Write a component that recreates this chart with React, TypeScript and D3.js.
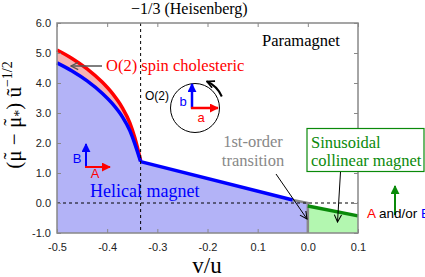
import React, { useEffect, useRef } from 'react';
import * as d3 from 'd3';

// curved part of the phase boundaries (x = v/u)
const curveX = [-0.5, -0.47, -0.44, -0.41, -0.39, -0.37, -0.355, -0.345, -1 / 3];
const cholestericY = [5.1, 4.82, 4.47, 4.03, 3.66, 3.18, 2.68, 2.18, 1.42];
const helicalY = [4.67, 4.4, 4.07, 3.66, 3.32, 2.88, 2.42, 1.98, 1.38];
// straight part of the helical boundary
const helicalLineX = [-1 / 3, -0.03];
const helicalLineY = [1.38, 0.1];
// 1st-order transition (gray)
const firstOrderX = [-0.03, 0, 0];
const firstOrderY = [0.1, 0.0, -1];
// sinusoidal collinear boundary
const sinusoidalX = [0, 0.1];
const sinusoidalY = [-0.1, -0.43];

const xTicks = [-0.5, -0.4, -0.3, -0.2, -0.1, 0, 0.1];
const xTickLabels = ['-0.5', '-0.4', '-0.3', '-0.2', '0.1', '0.0', '0.1'];
const yTicks = [-1, 0, 1, 2, 3, 4, 5, 6];
const yTickLabels = ['-1.0', '0.0', '1.0', '2.0', '3.0', '4.0', '5.0', '6.0'];

const SERIF = '"Liberation Serif", "Times New Roman", serif';
const SANS = '"Liberation Sans", Arial, sans-serif';

const App = () => {
  const ref = useRef<SVGSVGElement | null>(null);

  useEffect(() => {
    if (!ref.current) return;
    const svg = d3.select(ref.current);
    svg.selectAll('*').remove();

    const left = 57, right = 358, top = 23, bottom = 233;
    const x = d3.scaleLinear().domain([-0.5, 0.1]).range([left, right]);
    const y = d3.scaleLinear().domain([-1, 6]).range([bottom, top]);

    const defs = svg.append('defs');
    const openHead = (id: string, color: string, w: number) => {
      defs.append('marker')
        .attr('id', id)
        .attr('viewBox', '0 0 10 10')
        .attr('refX', 9).attr('refY', 5)
        .attr('markerWidth', 9).attr('markerHeight', 9)
        .attr('markerUnits', 'userSpaceOnUse')
        .attr('orient', 'auto')
        .append('path')
        .attr('d', 'M1,1 L9,5 L1,9')
        .attr('fill', 'none')
        .attr('stroke', color)
        .attr('stroke-width', w);
    };
    const solidHead = (id: string, color: string) => {
      defs.append('marker')
        .attr('id', id)
        .attr('viewBox', '0 0 10 10')
        .attr('refX', 9).attr('refY', 5)
        .attr('markerWidth', 9).attr('markerHeight', 9)
        .attr('markerUnits', 'userSpaceOnUse')
        .attr('orient', 'auto')
        .append('path')
        .attr('d', 'M0,0 L10,5 L0,10 Z')
        .attr('fill', color);
    };
    openHead('headGray', '#555', 1.4);
    openHead('headBlack', '#000', 1.2);
    openHead('headBlackBold', '#000', 1.8);
    solidHead('triBlue', '#0000ff');
    solidHead('triRed', '#ff0000');
    solidHead('triGreen', '#0a8a0a');

    const curveRed = curveX.map((v, i) => [v, cholestericY[i]] as [number, number]);
    const curveBlue = curveX.map((v, i) => [v, helicalY[i]] as [number, number]);
    const lineBlue = helicalLineX.map((v, i) => [v, helicalLineY[i]] as [number, number]);
    const gray = firstOrderX.map((v, i) => [v, firstOrderY[i]] as [number, number]);
    const green = sinusoidalX.map((v, i) => [v, sinusoidalY[i]] as [number, number]);

    const smooth = d3.line<[number, number]>()
      .x(d => x(d[0])).y(d => y(d[1]))
      .curve(d3.curveMonotoneX);
    const straight = d3.line<[number, number]>()
      .x(d => x(d[0])).y(d => y(d[1]));

    // helical magnet region
    const tail = [...lineBlue.slice(1), ...gray.slice(1)];
    const bluePath = smooth(curveBlue)
      + tail.map(d => `L${x(d[0])},${y(d[1])}`).join('')
      + `L${x(-0.5)},${y(-1)}Z`;
    svg.append('path').attr('d', bluePath).attr('fill', '#b3b3f7');

    // cholesteric sliver between red and blue
    const band = d3.area<number>()
      .x(i => x(curveX[i]))
      .y0(i => y(helicalY[i]))
      .y1(i => y(cholestericY[i]))
      .curve(d3.curveMonotoneX);
    svg.append('path').attr('d', band(d3.range(curveX.length)))
      .attr('fill', '#f5b3b3');

    // sinusoidal region
    const greenArea = d3.area<[number, number]>()
      .x(d => x(d[0])).y0(y(-1)).y1(d => y(d[1]));
    svg.append('path').attr('d', greenArea(green)).attr('fill', '#b3f7b0');

    svg.append('path').attr('d', smooth(curveRed))
      .attr('fill', 'none').attr('stroke', '#ff0000').attr('stroke-width', 3.5);
    svg.append('path').attr('d', smooth(curveBlue))
      .attr('fill', 'none').attr('stroke', '#0000ff').attr('stroke-width', 3.5);
    svg.append('path').attr('d', straight(lineBlue))
      .attr('fill', 'none').attr('stroke', '#0000ff').attr('stroke-width', 3.5);
    svg.append('path').attr('d', straight(gray))
      .attr('fill', 'none').attr('stroke', '#888').attr('stroke-width', 2.5);
    svg.append('path').attr('d', straight(green))
      .attr('fill', 'none').attr('stroke', '#0a8a0a').attr('stroke-width', 3.5);

    // dashed guides
    svg.append('line')
      .attr('x1', x(-1 / 3)).attr('x2', x(-1 / 3)).attr('y1', y(6)).attr('y2', y(-1))
      .attr('stroke', '#000').attr('stroke-width', 1).attr('stroke-dasharray', '3,3');
    svg.append('line')
      .attr('x1', x(-0.5)).attr('x2', x(0.1)).attr('y1', y(0)).attr('y2', y(0))
      .attr('stroke', '#000').attr('stroke-width', 1).attr('stroke-dasharray', '3,3');

    // axes with inward ticks
    const styleAxis = (g: d3.Selection<SVGGElement, unknown, null, undefined>) => {
      g.select('.domain').remove();
      g.selectAll('.tick line').attr('stroke', '#888');
      g.selectAll('.tick text')
        .attr('fill', '#222')
        .style('font-family', SANS)
        .style('font-size', '11px');
    };
    svg.append('g').attr('transform', `translate(0,${bottom})`)
      .call(d3.axisBottom(x).tickValues(xTicks).tickSizeInner(-4).tickSizeOuter(0)
        .tickPadding(10).tickFormat((_, i) => xTickLabels[i]))
      .call(styleAxis);
    svg.append('g').attr('transform', `translate(0,${top})`)
      .call(d3.axisTop(x).tickValues(xTicks).tickSizeInner(-4).tickSizeOuter(0)
        .tickFormat(() => ''))
      .call(styleAxis);
    svg.append('g').attr('transform', `translate(${left},0)`)
      .call(d3.axisLeft(y).tickValues(yTicks).tickSizeInner(-4).tickSizeOuter(0)
        .tickPadding(6).tickFormat((_, i) => yTickLabels[i]))
      .call(styleAxis);
    svg.append('g').attr('transform', `translate(${right},0)`)
      .call(d3.axisRight(y).tickValues(yTicks).tickSizeInner(-4).tickSizeOuter(0)
        .tickFormat(() => ''))
      .call(styleAxis);
    svg.append('rect')
      .attr('x', left).attr('y', top).attr('width', right - left).attr('height', bottom - top)
      .attr('fill', 'none').attr('stroke', '#888').attr('stroke-width', 1.5);

    // axis titles
    svg.append('text')
      .attr('x', 207).attr('y', 273).attr('text-anchor', 'middle')
      .style('font-family', SERIF).style('font-size', '23px')
      .text('v/u');

    // (mu~ - mu~*) u~^(-1/2), tilde drawn over each mu
    const yl = svg.append('text')
      .attr('transform', 'translate(21,115) rotate(-90)')
      .attr('text-anchor', 'middle')
      .style('font-family', SERIF).style('font-size', '21px');
    yl.append('tspan').text('(\u03BC');
    yl.append('tspan').attr('dx', -9).attr('dy', -3).text('\u02DC');
    yl.append('tspan').attr('dx', 2).attr('dy', 3).text(' \u2212 \u03BC');
    yl.append('tspan').attr('dx', -9).attr('dy', -3).text('\u02DC');
    yl.append('tspan').attr('dx', 2).attr('dy', 6).style('font-size', '14px').text('*');
    yl.append('tspan').attr('dy', -3).text(') \u0169');
    yl.append('tspan').attr('dy', -9).style('font-size', '14px').text('\u22121/2');

    svg.append('text')
      .attr('x', 131).attr('y', 14)
      .style('font-family', SERIF).style('font-size', '16px')
      .text('\u22121/3 (Heisenberg)');

    svg.append('text')
      .attr('x', 262).attr('y', 46)
      .style('font-family', SERIF).style('font-size', '16.5px')
      .text('Paramagnet');

    // O(2) spin cholesteric label + arrow
    svg.append('text')
      .attr('x', 106).attr('y', 71)
      .attr('fill', '#ff0000')
      .style('font-family', SERIF).style('font-size', '16.5px')
      .text('O(2) spin cholesteric');
    svg.append('line')
      .attr('x1', 102).attr('y1', 66).attr('x2', 71).attr('y2', 66)
      .attr('stroke', '#555').attr('stroke-width', 1.5)
      .attr('marker-end', 'url(#headGray)');

    // O(2) rotation sketch
    svg.append('text')
      .attr('x', 145).attr('y', 100)
      .style('font-family', SANS).style('font-size', '12px')
      .text('O(2)');
    svg.append('circle')
      .attr('cx', 195).attr('cy', 108).attr('r', 24.5)
      .attr('fill', 'none').attr('stroke', '#000').attr('stroke-width', 1);
    svg.append('path')
      .attr('d', 'M221.8,96.5 A29,29 0 0 0 207,81.5')
      .attr('fill', 'none').attr('stroke', '#000').attr('stroke-width', 2)
      .attr('marker-end', 'url(#headBlackBold)');
    svg.append('line')
      .attr('x1', 192).attr('y1', 108.5).attr('x2', 192).attr('y2', 84)
      .attr('stroke', '#0000ff').attr('stroke-width', 2.5)
      .attr('marker-end', 'url(#triBlue)');
    svg.append('line')
      .attr('x1', 191).attr('y1', 108).attr('x2', 218).attr('y2', 108)
      .attr('stroke', '#ff0000').attr('stroke-width', 2.5)
      .attr('marker-end', 'url(#triRed)');
    svg.append('text')
      .attr('x', 183).attr('y', 106).attr('text-anchor', 'middle')
      .attr('fill', '#0000ff')
      .style('font-family', SANS).style('font-size', '13px')
      .text('b');
    svg.append('text')
      .attr('x', 201).attr('y', 122).attr('text-anchor', 'middle')
      .attr('fill', '#ff0000')
      .style('font-family', SANS).style('font-size', '13px')
      .text('a');

    // A/B sketch in helical region
    svg.append('line')
      .attr('x1', 86).attr('y1', 167.5).attr('x2', 86).attr('y2', 144)
      .attr('stroke', '#0000ff').attr('stroke-width', 2)
      .attr('marker-end', 'url(#triBlue)');
    svg.append('line')
      .attr('x1', 85).attr('y1', 167).attr('x2', 110).attr('y2', 167)
      .attr('stroke', '#ff0000').attr('stroke-width', 2)
      .attr('marker-end', 'url(#triRed)');
    svg.append('text')
      .attr('x', 77).attr('y', 163).attr('text-anchor', 'middle')
      .attr('fill', '#0000ff')
      .style('font-family', SANS).style('font-size', '13px')
      .text('B');
    svg.append('text')
      .attr('x', 95).attr('y', 178).attr('text-anchor', 'middle')
      .attr('fill', '#ff0000')
      .style('font-family', SANS).style('font-size', '13px')
      .text('A');

    svg.append('text')
      .attr('x', 90).attr('y', 197)
      .attr('fill', '#0000ff')
      .style('font-family', SERIF).style('font-size', '18px')
      .text('Helical magnet');

    // 1st-order transition
    const fo = svg.append('text')
      .attr('text-anchor', 'middle')
      .attr('fill', '#888')
      .style('font-family', SERIF).style('font-size', '16.5px');
    fo.append('tspan').attr('x', 253).attr('y', 147).text('1st-order');
    fo.append('tspan').attr('x', 253).attr('y', 166).text('transition');
    svg.append('line')
      .attr('x1', 276).attr('y1', 174).attr('x2', 307).attr('y2', 219)
      .attr('stroke', '#000').attr('stroke-width', 1)
      .attr('marker-end', 'url(#headBlack)');

    // sinusoidal collinear magnet box
    svg.append('rect')
      .attr('x', 307).attr('y', 128.5).attr('width', 117).attr('height', 43)
      .attr('fill', '#fff').attr('stroke', '#0a8a0a').attr('stroke-width', 1.2);
    const sc = svg.append('text')
      .attr('fill', '#0a8a0a')
      .style('font-family', SERIF).style('font-size', '16.5px');
    sc.append('tspan').attr('x', 311).attr('y', 148).text('Sinusoidal');
    sc.append('tspan').attr('x', 311).attr('y', 166).text('collinear magnet');
    svg.append('line')
      .attr('x1', 340.5).attr('y1', 172).attr('x2', 337.5).attr('y2', 222)
      .attr('stroke', '#000').attr('stroke-width', 1)
      .attr('marker-end', 'url(#headBlack)');

    // A and/or B
    svg.append('line')
      .attr('x1', 395).attr('y1', 215).attr('x2', 395).attr('y2', 186)
      .attr('stroke', '#0a8a0a').attr('stroke-width', 2)
      .attr('marker-end', 'url(#triGreen)');
    const ab = svg.append('text')
      .attr('x', 367).attr('y', 218)
      .style('font-family', SANS).style('font-size', '13.5px');
    ab.append('tspan').attr('fill', '#ff0000').text('A');
    ab.append('tspan').attr('fill', '#000').text(' and/or ');
    ab.append('tspan').attr('fill', '#0000ff').text('B');
  }, []);

  return (
    <svg
      ref={ref}
      width={425}
      height={277}
      style={{ position: 'absolute', left: 0, top: 0, background: '#fff' }}
    />
  );
};

export default App;
